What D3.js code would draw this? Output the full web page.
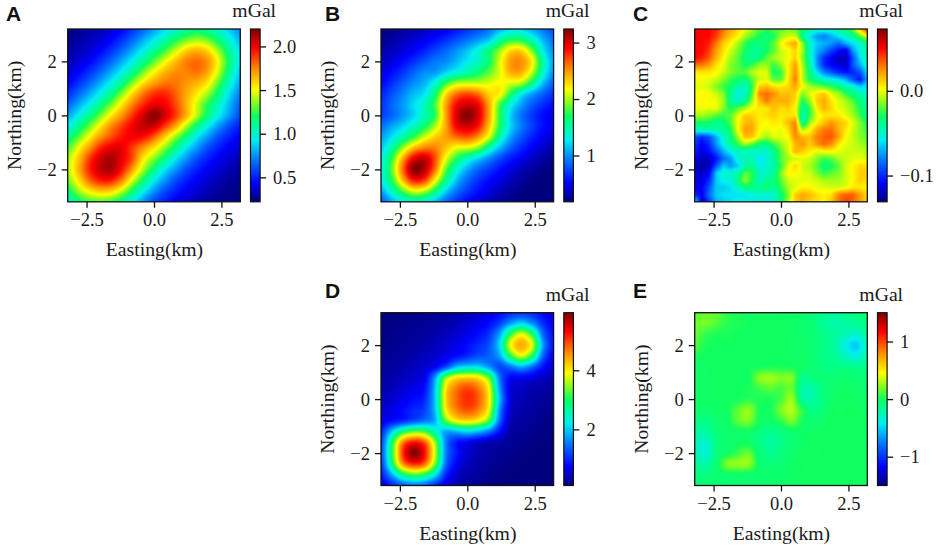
<!DOCTYPE html>
<html><head><meta charset="utf-8">
<script src="https://cdn.jsdelivr.net/npm/d3@7/dist/d3.min.js"></script>
<style>
html,body{margin:0;padding:0;background:#fff;}
svg{display:block;}
.serif{font-family:"Liberation Serif","Times New Roman",serif;fill:#1a1a1a;}
.letter{font-family:"Liberation Sans",Arial,sans-serif;font-weight:700;font-size:21px;fill:#111;}
</style></head><body>
<svg id="chart" width="941" height="547"></svg>
<script>
// ---------- data (mGal), rows run north to south, columns west to east ----------
const panelNames = ["A","B","C","D","E"];
const unitLabel = "mGal";
const xTitle = "Easting(km)";
const yTitle = "Northing(km)";
const xTicks = [-2.5,0,2.5];
const yTicks = [-2,0,2];
const extentKm = [-3.2,3.2];

const rangeA = [0.22,2.2], rangeB = [0.18,3.24], rangeC = [-0.131,0.073], rangeD = [0.1,5.95], rangeE = [-1.5,1.5];
const cbarTicksA = [0.5,1,1.5,2], cbarTicksB = [1,2,3], cbarTicksC = [-0.1,0], cbarTicksD = [2,4], cbarTicksE = [-1,0,1];

const gridA = [
[.23,.25,.28,.32,.37,.44,.54,.66,.78,.90,1.00,1.10,1.14,1.10,1.00,.86,.74],
[.25,.28,.32,.37,.44,.54,.66,.80,.93,1.06,1.20,1.32,1.38,1.32,1.16,.98,.82],
[.28,.32,.37,.44,.54,.66,.80,.95,1.10,1.26,1.44,1.60,1.66,1.58,1.36,1.10,.90],
[.32,.37,.44,.54,.66,.80,.95,1.12,1.30,1.48,1.64,1.76,1.80,1.72,1.48,1.16,.92],
[.37,.44,.54,.66,.80,.95,1.12,1.33,1.52,1.66,1.74,1.76,1.78,1.68,1.42,1.10,.86],
[.44,.54,.66,.80,.95,1.12,1.35,1.56,1.70,1.78,1.78,1.72,1.66,1.54,1.28,1.00,.80],
[.54,.66,.80,.95,1.12,1.35,1.58,1.78,1.90,1.92,1.82,1.68,1.54,1.38,1.14,.90,.72],
[.66,.80,.95,1.12,1.33,1.55,1.76,1.92,2.02,2.00,1.86,1.66,1.44,1.22,1.02,.82,.65],
[.80,.95,1.12,1.32,1.54,1.72,1.90,2.06,2.18,2.06,1.88,1.66,1.40,1.14,.94,.76,.60],
[.96,1.12,1.32,1.54,1.74,1.88,2.00,2.08,2.06,1.88,1.68,1.40,1.14,.94,.76,.60,.50],
[1.12,1.30,1.52,1.72,1.85,1.95,2.00,1.96,1.82,1.60,1.36,1.14,.92,.76,.60,.50,.42],
[1.28,1.50,1.72,1.92,2.02,2.02,1.88,1.72,1.56,1.36,1.14,.92,.76,.60,.50,.42,.36],
[1.40,1.62,1.88,2.06,2.12,2.02,1.85,1.55,1.35,1.14,.92,.76,.60,.50,.42,.36,.31],
[1.42,1.66,1.92,2.08,2.12,1.96,1.70,1.40,1.14,.92,.76,.60,.50,.42,.36,.31,.27],
[1.34,1.56,1.80,1.94,1.94,1.76,1.46,1.18,.94,.76,.60,.50,.42,.36,.31,.27,.25],
[1.18,1.38,1.54,1.62,1.60,1.44,1.18,.95,.76,.60,.50,.42,.36,.31,.27,.25,.23],
[1.00,1.16,1.26,1.30,1.26,1.14,.95,.76,.60,.50,.42,.36,.31,.27,.25,.23,.22]];

const gridB = [
[.19,.22,.25,.30,.36,.42,.49,.58,.68,.78,.90,1.10,1.24,1.22,1.08,.92,.78],
[.23,.27,.33,.40,.47,.56,.66,.78,.90,1.02,1.16,1.50,1.72,1.70,1.45,1.12,.90],
[.28,.34,.42,.50,.62,.74,.86,1.00,1.15,1.35,1.62,1.95,2.28,2.30,1.90,1.30,1.00],
[.34,.42,.54,.66,.80,.92,.98,1.12,1.28,1.42,1.66,2.10,2.48,2.52,2.20,1.50,1.05],
[.42,.54,.68,.84,.98,1.02,1.20,1.35,1.50,1.65,1.85,2.10,2.42,2.42,2.05,1.42,1.00],
[.52,.66,.82,.98,1.10,1.35,1.75,2.00,2.05,2.05,2.10,2.18,2.10,2.02,1.62,1.15,.85],
[.62,.78,.95,1.12,1.25,1.62,2.25,2.60,2.70,2.60,2.30,2.20,1.72,1.30,1.05,.85,.68],
[.68,.86,1.02,1.22,1.42,1.80,2.45,2.90,3.02,2.92,2.45,1.82,1.35,1.05,.82,.66,.54],
[.72,.85,1.02,1.20,1.45,1.75,2.45,3.00,3.22,3.00,2.45,1.75,1.20,.90,.70,.55,.45],
[.90,1.06,1.22,1.42,1.66,2.00,2.45,2.92,3.02,2.86,2.35,1.72,1.22,.94,.72,.56,.46],
[1.04,1.24,1.48,1.76,2.08,2.32,2.46,2.62,2.68,2.50,2.10,1.50,1.06,.80,.62,.48,.38],
[1.18,1.50,1.96,2.36,2.56,2.56,2.36,2.14,2.10,1.92,1.50,1.12,.84,.64,.50,.38,.30],
[1.28,1.76,2.42,2.94,3.06,2.70,2.14,1.72,1.42,1.20,.98,.76,.60,.48,.36,.28,.22],
[1.32,1.86,2.60,3.20,3.10,2.60,1.86,1.38,1.08,.86,.70,.56,.44,.34,.26,.21,.18],
[1.26,1.72,2.36,2.84,2.76,2.20,1.60,1.14,.86,.68,.54,.44,.34,.26,.21,.18,.18],
[1.06,1.42,1.82,2.12,2.04,1.66,1.20,.90,.70,.56,.44,.34,.26,.21,.18,.18,.18],
[.82,1.08,1.30,1.42,1.36,1.14,.88,.68,.54,.44,.34,.27,.21,.18,.18,.18,.18]];

const gridC = [
[.05,.05,.05,.045,.03,.02,.01,0,-.01,-.02,-.025,-.02,-.02,-.015,-.02,-.03,-.04,-.05,-.05,-.05,-.04,-.03,-.02,.015,.045],
[.055,.05,.05,.04,.025,.012,.004,-.01,-.02,-.03,-.035,-.03,-.012,-.005,-.005,-.04,-.06,-.075,-.08,-.07,-.06,-.05,-.04,-.02,0],
[.05,.05,.045,.03,.012,.003,-.01,-.025,-.035,-.035,-.03,-.02,0,.012,.022,-.015,-.05,-.065,-.07,-.075,-.085,-.07,-.06,-.05,-.035],
[.05,.05,.04,.022,.008,-.005,-.015,-.03,-.04,-.04,-.03,-.02,-.005,0,.01,-.01,-.05,-.07,-.08,-.095,-.105,-.115,-.075,-.055,-.04],
[.05,.045,.035,.018,.003,-.01,-.02,-.035,-.04,-.035,-.02,-.01,-.005,0,.012,-.015,-.045,-.075,-.10,-.11,-.12,-.12,-.09,-.06,-.045],
[.03,.03,.022,.008,-.002,-.015,-.02,-.03,-.025,-.012,-.012,-.025,-.012,.003,.022,-.01,-.04,-.075,-.10,-.11,-.115,-.12,-.09,-.07,-.05],
[.004,.006,.006,.003,-.005,-.015,-.02,-.02,-.008,-.002,-.002,-.03,-.025,.003,.025,-.008,-.035,-.06,-.08,-.09,-.10,-.105,-.10,-.09,-.06],
[0,0,-.002,-.005,-.015,-.025,-.03,-.035,-.02,-.005,-.002,-.02,-.02,.005,.03,-.008,-.03,-.04,-.05,-.055,-.06,-.07,-.09,-.105,-.07],
[-.002,-.002,-.005,-.015,-.025,-.03,-.045,-.05,-.025,.012,.016,.008,.006,.01,.02,0,-.01,-.015,-.02,-.025,-.035,-.045,-.05,-.065,-.055],
[.002,.002,0,-.005,-.015,-.04,-.055,-.05,-.02,.028,.032,.026,.014,.016,.012,-.015,-.002,.008,.014,-.002,-.01,-.025,-.035,-.045,-.05],
[.002,.002,.002,0,-.01,-.04,-.05,-.04,-.01,.014,.03,.016,.02,.018,.008,-.03,-.012,.012,.02,.006,-.002,-.01,-.02,-.035,-.045],
[0,0,0,0,-.015,-.03,-.02,-.01,.002,.006,.006,.016,.008,.012,.002,-.04,-.025,.006,.018,.01,-.002,-.005,-.015,-.03,-.04],
[-.01,-.01,-.015,-.02,-.025,-.02,-.002,.012,.01,.005,.008,.012,.006,.006,.008,-.05,-.025,-.002,.006,.006,.006,-.002,-.01,-.025,-.04],
[-.03,-.03,-.03,-.04,-.035,-.02,.002,.016,.018,.004,.002,.006,.004,.016,.028,-.045,-.012,.004,.014,.024,.016,.01,-.002,-.015,-.03],
[-.05,-.045,-.045,-.045,-.04,-.03,.002,.022,.02,.002,-.002,.002,-.002,.008,.03,-.01,.002,.02,.03,.032,.018,.006,-.005,-.015,-.025],
[-.09,-.10,-.09,-.07,-.05,-.035,-.012,.016,.014,-.002,-.012,-.002,-.002,.002,.026,.018,.014,.028,.034,.036,.022,.002,-.005,-.015,-.02],
[-.095,-.11,-.10,-.075,-.055,-.04,-.025,-.01,-.02,-.035,-.035,-.025,-.012,-.002,.016,.024,.012,.024,.032,.026,.006,-.002,-.005,-.01,-.015],
[-.10,-.115,-.105,-.09,-.07,-.055,-.05,-.05,-.05,-.05,-.05,-.04,-.02,-.005,.018,.012,.006,-.002,.003,.003,-.002,-.005,-.005,-.005,-.01],
[-.11,-.12,-.12,-.105,-.085,-.075,-.05,-.045,-.045,-.06,-.055,-.04,-.02,-.01,-.005,-.002,-.005,-.015,-.025,-.02,-.01,-.005,-.002,-.002,-.005],
[-.12,-.125,-.12,-.09,-.065,-.075,-.065,-.045,-.04,-.055,-.05,-.045,-.025,-.002,.01,-.005,-.01,-.02,-.035,-.03,-.02,-.005,.003,.01,.008],
[-.11,-.12,-.11,-.065,-.05,-.05,-.045,-.02,-.025,-.05,-.05,-.04,-.015,.003,.003,-.002,-.005,-.015,-.025,-.02,-.015,-.005,.003,.012,.012],
[-.11,-.115,-.10,-.065,-.055,-.055,-.035,-.012,-.03,-.05,-.04,-.035,-.02,-.005,-.002,-.002,-.002,-.005,-.01,-.01,-.01,-.005,.003,.012,.008],
[-.11,-.11,-.09,-.065,-.065,-.06,-.05,-.035,-.035,-.04,-.03,-.04,-.025,-.01,-.002,.003,.003,-.002,-.002,-.005,-.005,-.002,.006,.006,.003],
[-.10,-.11,-.085,-.065,-.06,-.06,-.06,-.06,-.055,-.05,-.055,-.05,-.035,-.015,.012,.02,.016,.008,.003,.008,.028,.034,.034,.022,.008],
[-.05,-.12,-.095,-.07,-.065,-.06,-.055,-.055,-.055,-.055,-.055,-.05,-.035,-.01,.012,.02,.012,.008,.003,.014,.03,.04,.034,.022,.008]];

const gridD = [
[.12,.12,.14,.16,.18,.22,.26,.32,.40,.50,.64,.80,1.00,1.10,1.00,.78,.58],
[.12,.14,.16,.18,.22,.26,.32,.40,.50,.64,.80,1.15,1.75,2.10,1.70,1.05,.70],
[.14,.16,.18,.22,.26,.32,.40,.50,.64,.80,1.06,1.80,3.10,3.80,3.05,1.45,.80],
[.16,.18,.22,.26,.32,.40,.50,.64,.80,1.00,1.26,2.10,3.85,4.40,3.80,1.75,.82],
[.18,.22,.26,.32,.40,.50,.64,.80,1.00,1.24,1.36,1.80,3.05,3.75,3.00,1.40,.70],
[.22,.26,.32,.40,.50,.70,1.20,1.90,2.10,2.10,1.70,1.20,1.50,1.85,1.45,.85,.52],
[.26,.32,.40,.50,.64,1.70,3.40,4.00,4.15,4.00,3.30,1.50,.76,.70,.60,.46,.36],
[.32,.40,.50,.64,.80,1.95,4.00,4.70,4.95,4.70,3.90,1.70,.60,.46,.36,.30,.24],
[.40,.50,.64,.80,.98,2.00,4.10,4.80,5.10,4.85,4.00,1.90,.56,.38,.30,.24,.20],
[.50,.64,.80,.98,1.16,1.95,3.95,4.65,4.90,4.65,3.85,1.65,.50,.34,.26,.20,.16],
[.62,.80,1.00,1.24,1.50,1.85,3.30,3.95,4.10,3.90,3.20,1.40,.40,.28,.22,.16,.14],
[.95,2.00,2.90,3.30,3.20,2.50,1.80,1.90,2.10,1.90,1.50,.80,.30,.22,.17,.14,.12],
[1.15,2.90,4.60,5.20,4.90,3.50,1.60,.90,.70,.52,.40,.30,.22,.17,.14,.12,.10],
[1.20,3.00,5.00,5.90,5.30,3.70,1.60,.90,.52,.38,.28,.22,.17,.14,.12,.10,.10],
[1.10,2.80,4.50,5.10,4.80,3.40,1.45,.70,.42,.30,.22,.17,.14,.12,.10,.10,.10],
[.90,1.80,2.80,3.20,3.00,2.20,1.00,.50,.32,.24,.18,.14,.12,.10,.10,.10,.10],
[.60,.95,1.30,1.50,1.40,1.00,.60,.35,.24,.18,.14,.12,.10,.10,.10,.10,.10]];

const gridE = [
[.12,.16,.16,.06,.02,0,0,0,-.02,-.02,-.04,-.08,-.14,-.16,-.14,-.1,-.06],
[.18,.18,.12,.04,.02,0,0,0,0,-.02,-.04,-.08,-.18,-.22,-.20,-.16,-.1],
[.16,.06,.02,.02,0,0,0,0,0,-.02,-.04,-.06,-.12,-.18,-.26,-.32,-.18],
[.12,.02,0,0,0,0,0,0,0,-.02,-.02,-.06,-.12,-.2,-.40,-.52,-.26],
[.02,0,0,0,0,0,0,0,0,-.02,-.02,-.06,-.12,-.16,-.28,-.38,-.2],
[-.02,-.02,0,0,0,0,0,.02,.02,0,-.02,-.06,-.1,-.12,-.12,-.14,-.12],
[-.02,-.02,0,0,0,0,.22,.26,.20,.20,-.14,-.08,-.06,-.06,-.04,-.06,-.08],
[-.02,-.02,0,0,0,.02,.08,.14,.10,.16,-.20,-.20,-.08,-.04,-.02,-.04,-.06],
[-.02,-.02,-.02,0,0,.04,.02,.02,.10,.26,-.20,-.20,-.08,-.02,0,-.02,-.04],
[-.04,-.04,-.02,0,.14,.24,.02,0,.20,.30,.04,-.12,-.06,0,0,0,-.02],
[-.1,-.12,-.04,-.02,.14,.20,0,-.02,.06,.20,0,-.06,-.02,0,0,0,0],
[-.2,-.2,-.08,-.04,-.02,-.02,-.08,-.14,-.1,-.04,-.02,-.02,0,0,0,0,0],
[-.25,-.32,-.1,-.04,-.02,-.02,-.12,-.2,-.12,-.06,-.02,0,0,0,0,0,0],
[-.24,-.35,-.1,-.02,.08,.16,-.08,-.14,-.1,-.04,-.02,0,0,0,0,0,0],
[-.16,-.22,-.06,.20,.24,.24,-.04,-.08,-.06,-.02,0,0,0,0,0,0,0],
[-.1,-.1,-.06,-.04,-.02,-.04,-.04,-.04,-.04,-.02,0,0,0,0,0,0,0],
[-.06,-.06,-.06,-.06,-.04,-.04,-.04,-.04,-.02,-.02,0,0,0,0,0,0,0]];

const grids = [gridA,gridB,gridC,gridD,gridE];
const ranges = [rangeA,rangeB,rangeC,rangeD,rangeE];
const cbarTicks = [cbarTicksA,cbarTicksB,cbarTicksC,cbarTicksD,cbarTicksE];
const cbarFormats = [".1f","d",".1f","d","d"];
const smoothPanels = [true,true,false,true,true];

// ---------- layout ----------
const plotLeft = [67.7,381,694.7,381,694.7];
const plotTop = [29,29,29,312.7,312.7];
const plotSize = [172.6,172.8];
const cbarGap = 10.2, cbarWidth = 9.6;
const letterX = [6,325,633,325,633];
const letterY = [21,21,21,298,298];

// ---------- colour map (image-toned jet) ----------
const jetStops = [0,.11,.25,.36,.45,.5,.57,.65,.77,.89,1];
const jetColors = ["#00007f","#0000ff","#0080ff","#00f0f0","#00ff90","#10ff60","#80ff20","#ffff00","#ff8c00","#ff0000","#7f0000"];
const jet = d3.scaleLinear().domain(jetStops).range(jetColors).clamp(true);

function cr(p0,p1,p2,p3,t){
  return p1+0.5*t*(p2-p0+t*(2*p0-5*p1+4*p2-p3+t*(3*(p1-p2)+p3-p0)));
}
function sample(g,fx,fy,smooth){
  const n=g.length,m=g[0].length;
  const gx=Math.max(0,Math.min(m-1,fx)),gy=Math.max(0,Math.min(n-1,fy));
  const ix=Math.min(m-2,Math.floor(gx)),iy=Math.min(n-2,Math.floor(gy));
  const tx=gx-ix,ty=gy-iy;
  if(!smooth){
    const a=d3.interpolateNumber(g[iy][ix],g[iy][ix+1])(tx);
    const b=d3.interpolateNumber(g[iy+1][ix],g[iy+1][ix+1])(tx);
    return d3.interpolateNumber(a,b)(ty);
  }
  const vals=[];
  for(let r=iy-1;r<=iy+2;r++){
    const row=g[Math.max(0,Math.min(n-1,r))];
    const c=k=>row[Math.max(0,Math.min(m-1,k))];
    vals.push(cr(c(ix-1),c(ix),c(ix+1),c(ix+2),tx));
  }
  return cr(vals[0],vals[1],vals[2],vals[3],ty);
}

const svg = d3.select("#chart");
const serif = "serif";

panelNames.forEach((name,k)=>{
  const L=plotLeft[k],T=plotTop[k],W=plotSize[0],H=plotSize[1];
  const x=d3.scaleLinear().domain(extentKm).range([L,L+W]);
  const y=d3.scaleLinear().domain(extentKm).range([T+H,T]);
  const grid=grids[k];
  const colX=d3.scaleLinear().domain(extentKm).range([0,grid[0].length-1]);
  const rowY=d3.scaleLinear().domain(extentKm).range([grid.length-1,0]);
  const tScale=d3.scaleLinear().domain(ranges[k]).range([0,1]);

  // heat image
  const cw=Math.round(W),ch=Math.round(H);
  const cv=document.createElement("canvas");cv.width=cw;cv.height=ch;
  const ctx=cv.getContext("2d");const im=ctx.createImageData(cw,ch);
  for(let j=0;j<ch;j++)for(let i=0;i<cw;i++){
    const kmx=x.invert(L+(i+.5)*W/cw),kmy=y.invert(T+(j+.5)*H/ch);
    const v=sample(grid,colX(kmx),rowY(kmy),smoothPanels[k]);
    const c=d3.rgb(jet(tScale(v)));const o=(j*cw+i)*4;
    im.data[o]=c.r;im.data[o+1]=c.g;im.data[o+2]=c.b;im.data[o+3]=255;
  }
  ctx.putImageData(im,0,0);
  svg.append("image").attr("x",L).attr("y",T).attr("width",W).attr("height",H)
    .attr("preserveAspectRatio","none").attr("href",cv.toDataURL());

  // frame and axes
  svg.append("rect").attr("x",L).attr("y",T).attr("width",W).attr("height",H)
    .attr("fill","none").attr("stroke","#111").attr("stroke-width",1.3);
  const ax=svg.append("g").attr("transform",`translate(0,${T+H})`)
    .call(d3.axisBottom(x).tickValues(xTicks).tickFormat(d3.format(".1f")).tickSize(6).tickPadding(5).tickSizeOuter(0));
  const ay=svg.append("g").attr("transform",`translate(${L},0)`)
    .call(d3.axisLeft(y).tickValues(yTicks).tickFormat(d3.format("d")).tickSize(6).tickPadding(5).tickSizeOuter(0));
  [ax,ay].forEach(a=>{
    a.select(".domain").remove();
    a.selectAll("line").attr("stroke","#111").attr("stroke-width",1.3);
    a.selectAll("text").attr("class",serif).style("font-size","18.5px").attr("fill","#1a1a1a");
  });

  svg.append("text").attr("class",serif).attr("x",L+W/2+.5).attr("y",T+H+54)
    .attr("text-anchor","middle").style("font-size","19.7px").text(xTitle);
  svg.append("text").attr("class",serif)
    .attr("transform",`translate(${L-47},${T+H/2}) rotate(-90)`)
    .attr("text-anchor","middle").style("font-size","19.7px").text(yTitle);

  // colour bar
  const BL=L+W+cbarGap;
  const cy=d3.scaleLinear().domain(ranges[k]).range([T+H,T]);
  const bar=document.createElement("canvas");bar.width=1;bar.height=ch;
  const bctx=bar.getContext("2d");
  d3.range(ch).forEach(j=>{bctx.fillStyle=jet(1-(j+.5)/ch);bctx.fillRect(0,j,1,1);});
  svg.append("image").attr("x",BL).attr("y",T).attr("width",cbarWidth).attr("height",H)
    .attr("preserveAspectRatio","none").attr("href",bar.toDataURL());
  svg.append("rect").attr("x",BL).attr("y",T).attr("width",cbarWidth).attr("height",H)
    .attr("fill","none").attr("stroke","#111").attr("stroke-width",1.2);
  const ac=svg.append("g").attr("transform",`translate(${BL+cbarWidth},0)`)
    .call(d3.axisRight(cy).tickValues(cbarTicks[k]).tickFormat(d3.format(cbarFormats[k])).tickSize(6).tickPadding(7).tickSizeOuter(0));
  ac.select(".domain").remove();
  ac.selectAll("line").attr("stroke","#111").attr("stroke-width",1.3);
  ac.selectAll("text").attr("class",serif).style("font-size","18.5px").attr("fill","#1a1a1a");

  svg.append("text").attr("class",serif).attr("x",BL+cbarWidth+16).attr("y",T-12)
    .attr("text-anchor","end").style("font-size","19.7px").text(unitLabel);
  svg.append("text").attr("class","letter").attr("x",letterX[k]).attr("y",letterY[k]).text(name);
});
</script>
</body></html>
